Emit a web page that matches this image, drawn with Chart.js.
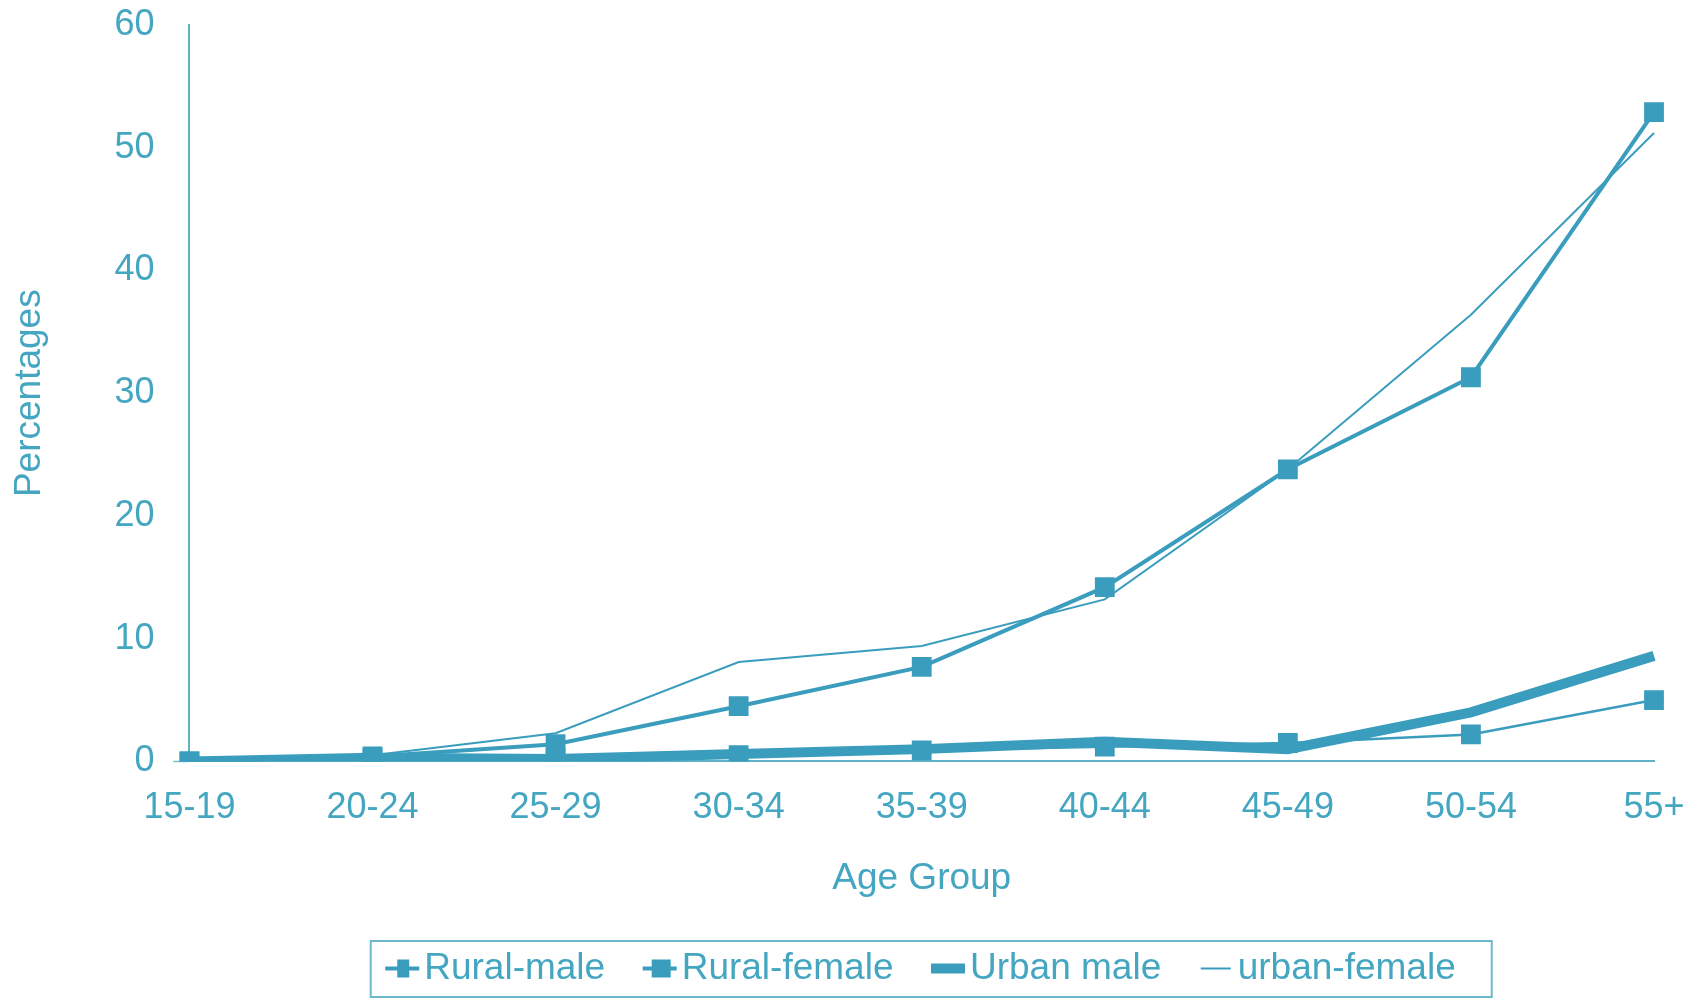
<!DOCTYPE html>
<html>
<head>
<meta charset="utf-8">
<script src="https://cdn.jsdelivr.net/npm/chart.js@4.4.0/dist/chart.umd.min.js"></script>
<style>
  body { margin: 0; background: #ffffff; }
  #wrap { width: 1700px; height: 1000px; }
</style>
</head>
<body>
<div id="wrap"><canvas id="grafico_edad"></canvas></div>
<script>
// data
var ageGroups = ['15-19', '20-24', '25-29', '30-34', '35-39', '40-44', '45-49', '50-54', '55+'];
var ruralMale = [0, 0.3, 0.3, 0.5, 0.9, 1.2, 1.5, 2.2, 5.0];
var ruralFemale = [0, 0.4, 1.4, 4.5, 7.7, 14.2, 23.8, 31.3, 52.9];
var urbanMale = [0, 0.3, 0.2, 0.6, 1.0, 1.6, 1.0, 4.0, 8.6];
var urbanFemale = [0, 0.5, 2.3, 8.1, 9.4, 13.2, 23.8, 36.4, 51.2];
var yTicks = [0, 10, 20, 30, 40, 50, 60];

var lineColor = '#3a9dbd';
var textColor = '#45a6c1';

// little pictures for the legend keys (drawn on the right part of the canvas,
// so they sit close to the text)
function legendIcon(kind) {
    var c = document.createElement('canvas');
    c.width = 79; c.height = 26;
    var g = c.getContext('2d');
    g.fillStyle = lineColor;
    var x = 43;
    if (kind == 'small') {
        g.fillRect(x, 11, 34, 4);
        g.fillRect(x + 12, 4, 12, 18);
    } else if (kind == 'big') {
        g.fillRect(x, 11, 34, 4);
        g.fillRect(x + 9, 4, 19, 18);
    } else if (kind == 'thick') {
        g.fillRect(x, 8, 34, 10);
    } else {
        g.fillRect(x + 2, 12, 30, 2);
    }
    return c;
}
var icons = [legendIcon('small'), legendIcon('big'), legendIcon('thick'), legendIcon('thin')];

// nudge the legend a bit left and put a box round it
var legendFrame = {
    id: 'legendFrame',
    afterLayout: function(chart) {
        var lg = chart.legend;
        lg.left -= 15;
        lg.right -= 15;
    },
    afterDraw: function(chart) {
        var lg = chart.legend;
        if (!lg || !lg.legendHitBoxes.length) return;
        var first = lg.legendHitBoxes[0];
        var last = lg.legendHitBoxes[lg.legendHitBoxes.length - 1];
        var x0 = first.left + 13;
        var x1 = last.left + last.width + 36;
        var ctx = chart.ctx;
        ctx.save();
        ctx.strokeStyle = '#6cb9cd';
        ctx.lineWidth = 2;
        ctx.strokeRect(x0, 941, x1 - x0, 56);
        ctx.restore();
    }
};

document.addEventListener("DOMContentLoaded", function() {
    Chart.defaults.font.family = '"Liberation Sans", Arial, sans-serif';
    Chart.defaults.color = textColor;

    var ctx = document.getElementById("grafico_edad").getContext('2d');
    var migrafica = new Chart(ctx, {
        type: 'line',
        data: {
            labels: ageGroups,
            datasets: [
                {
                    label: 'Rural-male',
                    data: ruralMale,
                    borderColor: lineColor,
                    backgroundColor: lineColor,
                    borderWidth: 2.5,
                    pointStyle: 'rect',
                    pointRadius: 14,
                    pointBorderWidth: 0,
                    tension: 0
                },
                {
                    label: 'Rural-female',
                    data: ruralFemale,
                    borderColor: lineColor,
                    backgroundColor: lineColor,
                    borderWidth: 4,
                    pointStyle: 'rect',
                    pointRadius: 14,
                    pointBorderWidth: 0,
                    tension: 0
                },
                {
                    label: 'Urban male',
                    data: urbanMale,
                    borderColor: lineColor,
                    backgroundColor: lineColor,
                    borderWidth: 10,
                    pointRadius: 0,
                    tension: 0
                },
                {
                    label: 'urban-female',
                    data: urbanFemale,
                    borderColor: lineColor,
                    backgroundColor: lineColor,
                    borderWidth: 2,
                    pointRadius: 0,
                    tension: 0
                }
            ]
        },
        options: {
            responsive: true,
            maintainAspectRatio: false,
            animation: false,
            layout: {
                padding: { left: 0, top: 25, right: 46, bottom: 3 }
            },
            plugins: {
                tooltip: { enabled: false },
                legend: {
                    position: 'bottom',
                    fullSize: false,
                    labels: {
                        usePointStyle: true,
                        pointStyleWidth: 48,
                        font: { size: 37 },
                        color: textColor,
                        padding: 10,
                        generateLabels: function(chart) {
                            var items = Chart.defaults.plugins.legend.labels.generateLabels(chart);
                            items.forEach(function(it, i) {
                                it.pointStyle = icons[i];
                            });
                            return items;
                        }
                    }
                }
            },
            scales: {
                x: {
                    offset: false,
                    // invisible tick marks keep the labels away from the axis
                    grid: { display: true, drawOnChartArea: false, drawTicks: true, tickLength: 25, tickColor: 'rgba(0,0,0,0)' },
                    border: { display: true, color: '#5fb2c8', width: 2 },
                    ticks: { font: { size: 36 }, color: textColor, padding: 0, maxRotation: 0, autoSkip: false },
                    title: {
                        display: true,
                        text: 'Age Group',
                        font: { size: 37 },
                        color: textColor,
                        padding: { top: 27, bottom: 39 }
                    }
                },
                y: {
                    min: 0,
                    max: 60,
                    afterBuildTicks: function(axis) {
                        axis.ticks = yTicks.map(function(v) { return { value: v }; });
                    },
                    // only the 0 tick shows, as a short stub left of the axis
                    grid: {
                        display: true,
                        drawOnChartArea: false,
                        drawTicks: true,
                        tickLength: 35,
                        tickWidth: 1.5,
                        tickBorderDash: [0, 19, 16, 100],
                        tickColor: function(c) {
                            return c.tick && c.tick.value === 0 ? '#7cc0d2' : 'rgba(0,0,0,0)';
                        }
                    },
                    border: { display: true, color: '#5fb2c8', width: 2 },
                    ticks: { font: { size: 36 }, color: textColor, padding: 0 },
                    title: {
                        display: true,
                        text: 'Percentages',
                        font: { size: 37 },
                        color: textColor,
                        padding: { top: 8, bottom: 62 }
                    }
                }
            }
        },
        plugins: [legendFrame]
    });
});
</script>
</body>
</html>
